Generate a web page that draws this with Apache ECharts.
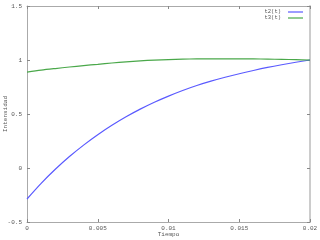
<!DOCTYPE html>
<html><head><meta charset="utf-8">
<script src="https://cdn.jsdelivr.net/npm/echarts@6/dist/echarts.min.js"></script>
<style>html,body{margin:0;padding:0;background:#fff}#c{width:320px;height:240px}</style>
</head><body><div id="c"></div>
<script>
const tValues = [0,0.001,0.002,0.003,0.004,0.005,0.006,0.007,0.008,0.009,0.010,0.011,0.012,0.013,0.014,0.015,0.016,0.017,0.018,0.019,0.020];
const t2Values = [-0.287,-0.142,-0.012,0.106,0.212,0.308,0.395,0.474,0.545,0.609,0.666,0.718,0.764,0.804,0.840,0.873,0.903,0.931,0.956,0.979,1.000];
const t3Values = [0.888,0.906,0.921,0.935,0.948,0.960,0.972,0.983,0.992,0.999,1.004,1.008,1.010,1.011,1.011,1.011,1.010,1.008,1.006,1.003,1.000];
const seriesNames = ['t2(t)','t3(t)'];
const xTicks = ['0','0.005','0.01','0.015','0.02'];
const yTicks = ['-0.5','0','0.5','1','1.5'];
const xTitle = 'Tiempo';
const yTitle = 'Intensidad';

const font = 'Liberation Mono, DejaVu Sans Mono, monospace';
const lab = {fontFamily: font, fontSize: 6, color: '#555'};
const chart = echarts.init(document.getElementById('c'), null, {renderer: 'canvas'});
const xFmt = v => xTicks[Math.round(v / 0.005)];
const yFmt = v => yTicks[Math.round((v + 0.5) / 0.5)];
const axisCommon = () => ({
  axisLine: {show: true, onZero: false, lineStyle: {color: '#aaa', width: 1}},
  axisTick: {show: true, inside: true, length: 3, lineStyle: {color: '#888'}},
  splitLine: {show: false}
});
chart.setOption({
  animation: false,
  grid: {left: 27, right: 10, top: 6, bottom: 18, show: false, containLabel: false, outerBoundsMode: 'none'},
  legend: {
    show: true, right: 12, top: 4, orient: 'vertical', itemGap: 0, itemWidth: 15, itemHeight: 1.2,
    align: 'right', icon: 'rect',
    textStyle: Object.assign({}, lab, {fontSize: 5.5, lineHeight: 5, padding: [0, 2, 0, 0]}),
    data: seriesNames
  },
  xAxis: [
    Object.assign({type: 'value', min: 0, max: 0.02, interval: 0.005, position: 'bottom',
      name: xTitle, nameLocation: 'middle', nameGap: 9, nameTextStyle: lab, nameMoveOverlap: false,
      axisLabel: Object.assign({formatter: xFmt, margin: 3}, lab)}, axisCommon()),
    Object.assign({type: 'value', min: 0, max: 0.02, interval: 0.005, position: 'top',
      axisLabel: {show: false}}, axisCommon())
  ],
  yAxis: [
    Object.assign({type: 'value', min: -0.5, max: 1.5, interval: 0.5, position: 'left',
      name: yTitle, nameLocation: 'middle', nameGap: 19, nameTextStyle: lab, nameMoveOverlap: false,
      axisLabel: Object.assign({formatter: yFmt, margin: 5}, lab)}, axisCommon()),
    Object.assign({type: 'value', min: -0.5, max: 1.5, interval: 0.5, position: 'right',
      axisLabel: {show: false}}, axisCommon(), {axisLine: {show: true, onZero: false, lineStyle: {color: '#ccc', width: 2}}})
  ],
  series: [
    {name: seriesNames[0], type: 'line', smooth: 0.3, showSymbol: false,
     itemStyle: {color: '#5a5aff'}, lineStyle: {color: '#5a5aff', width: 1.2},
     data: tValues.map((t, i) => [t, t2Values[i]])},
    {name: seriesNames[1], type: 'line', smooth: 0.3, showSymbol: false,
     itemStyle: {color: '#4aa84a'}, lineStyle: {color: '#4aa84a', width: 1.2},
     data: tValues.map((t, i) => [t, t3Values[i]])}
  ]
});
</script></body></html>
